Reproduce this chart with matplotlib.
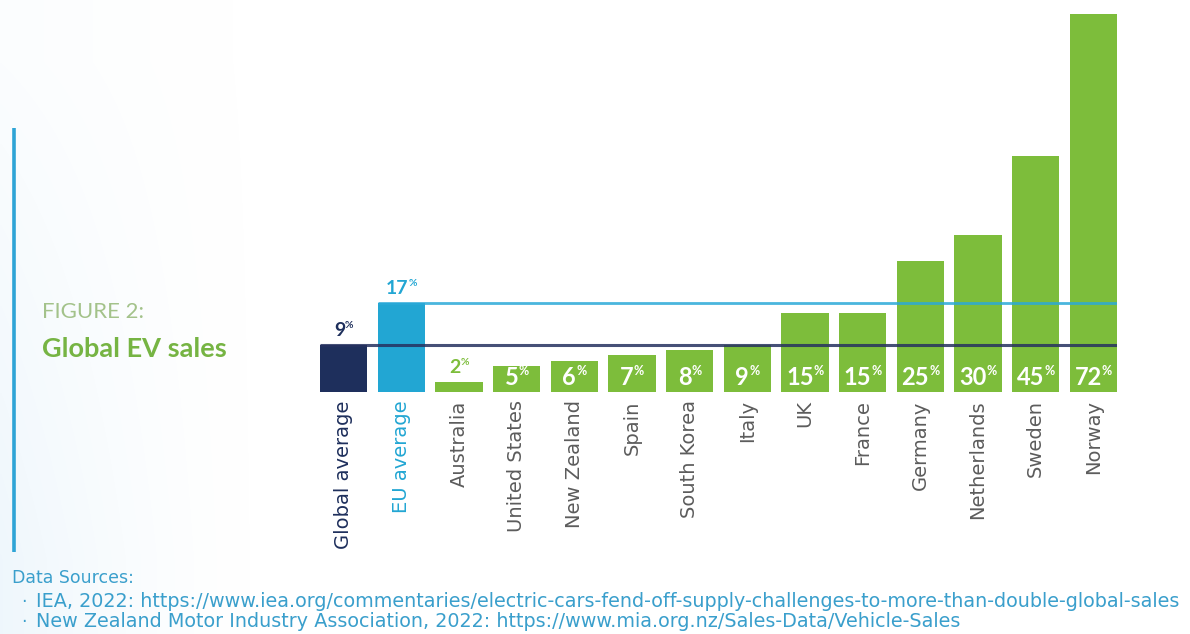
import numpy as np
import matplotlib
matplotlib.use("Agg")
import matplotlib.pyplot as plt

# EV share of new car sales, 2022
categories = ["Global average", "EU average", "Australia", "United States",
              "New Zealand", "Spain", "South Korea", "Italy", "UK", "France",
              "Germany", "Netherlands", "Sweden", "Norway"]
values = [9, 17, 2, 5, 6, 7, 8, 9, 15, 15, 25, 30, 45, 72]
global_avg = 9
eu_avg = 17

NAVY = "#1e2f5c"
BLUE = "#22a6d3"
GREEN = "#7dbd3b"
TITLE_GREEN = "#76b443"
FIG_GREY = "#a3c28a"
LABEL_GREY = "#5c5c5c"
SRC_BLUE = "#3a9fcc"

bar_colors = [NAVY, BLUE] + [GREEN] * (len(values) - 2)
tick_colors = [NAVY, BLUE] + [LABEL_GREY] * (len(values) - 2)

W, H = 1190, 634
fig = plt.figure(figsize=(W / 100, H / 100), dpi=100)

# soft bluish wash on the left side
bg = fig.add_axes([0, 0, 1, 1], zorder=-5)
bg.set_xlim(0, W)
bg.set_ylim(H, 0)
bg.axis("off")
xx, yy = np.meshgrid(np.linspace(0, W, 400), np.linspace(0, H, 200))
fade_x = np.clip(1 - xx / 260.0, 0, 1) ** 1.5
fade_y = np.clip((yy - 60) / 500.0, 0, 1)
alpha = 0.45 * fade_x * (0.25 + 0.75 * fade_y)
rgba = np.zeros(xx.shape + (4,))
rgba[..., 0] = 0.86
rgba[..., 1] = 0.93
rgba[..., 2] = 0.98
rgba[..., 3] = alpha
bg.imshow(rgba, extent=[0, W, H, 0], aspect="auto", interpolation="bilinear")
bg.plot([14, 14], [128, 552], color="#2ea4d6", lw=2.6, solid_capstyle="butt")

# main bar axes
x0, x1 = 320, 1117
base_y, top_y = 392, 14
ax = fig.add_axes([x0 / W, (H - base_y) / H, (x1 - x0) / W, (base_y - top_y) / H])
bw = 0.82
n = len(values)
xs = np.arange(n)
ax.bar(xs, values, width=bw, color=bar_colors, zorder=2)
ax.set_xlim(-bw / 2, n - 1 + bw / 2)
ax.set_ylim(0, max(values))
for s in ax.spines.values():
    s.set_visible(False)
ax.set_yticks([])
ax.set_xticks(xs)
ax.set_xticklabels(categories, rotation=90, fontsize=14, family="DejaVu Sans",
                   va="top", ha="center")
ax.tick_params(axis="x", length=0, pad=6)
for lab, c in zip(ax.get_xticklabels(), tick_colors):
    lab.set_color(c)

# reference lines for the averages
ax.hlines(global_avg, -bw / 2, n - 1 + bw / 2, color="#26315f", lw=2.2, alpha=0.85, zorder=3)
ax.hlines(eu_avg, 1 - bw / 2, n - 1 + bw / 2, color="#2aa9d8", lw=2.0, alpha=0.85, zorder=3)

# value labels: number plus small raised percent sign
fig.canvas.draw()
renderer = fig.canvas.get_renderer()
pairs = []
for i, v in enumerate(values):
    inside = i >= 2 and v >= 5
    if inside:
        col, fs, fsp, y, dy = "white", 17, 9, 0, 5
    else:
        col, fs, fsp, y, dy = bar_colors[i], 14, 7.5, v, 6
    tn = ax.annotate(str(v), (i, y), xytext=(0, dy), textcoords="offset points",
                     ha="left", va="baseline", fontsize=fs, fontweight="bold",
                     family="Lato", color=col, zorder=5)
    tp = ax.annotate("%", (i, y), xytext=(0, dy), textcoords="offset points",
                     ha="left", va="baseline", fontsize=fsp, fontweight="bold",
                     family="Lato", color=col, zorder=5)
    pairs.append((tn, tp, fs, fsp, dy))
fig.canvas.draw()
for tn, tp, fs, fsp, dy in pairs:
    wn = tn.get_window_extent(renderer).width * 72 / fig.dpi
    wp = tp.get_window_extent(renderer).width * 72 / fig.dpi
    left = -(wn + wp) / 2
    tn.xyann = (left, dy)
    tp.xyann = (left + wn, dy + fs * 0.42)

# heading
fig.text(42 / W, 1 - 318 / H, "FIGURE 2:", fontsize=16, family="Lato",
         color=FIG_GREY, ha="left", va="baseline")
fig.text(42 / W, 1 - 357 / H, "Global EV sales", fontsize=19.5, family="Lato",
         fontweight="bold", color=TITLE_GREEN, ha="left", va="baseline")

# sources
src_font = "DejaVu Sans"
fig.text(12 / W, 1 - 583 / H, "Data Sources:", fontsize=12.5, family=src_font,
         color=SRC_BLUE, ha="left", va="baseline")
sources = [
    "IEA, 2022: https://www.iea.org/commentaries/electric-cars-fend-off-supply-challenges-to-more-than-double-global-sales",
    "New Zealand Motor Industry Association, 2022: https://www.mia.org.nz/Sales-Data/Vehicle-Sales",
]
for k, s in enumerate(sources):
    yb = 1 - (607 + 20 * k) / H
    fig.text(21 / W, yb, "\u00b7", fontsize=12.5, family=src_font, color=SRC_BLUE,
             ha="left", va="baseline")
    fig.text(36 / W, yb, s, fontsize=13.8, family=src_font, color=SRC_BLUE,
             ha="left", va="baseline")

fig.savefig("out.png", dpi=100)
